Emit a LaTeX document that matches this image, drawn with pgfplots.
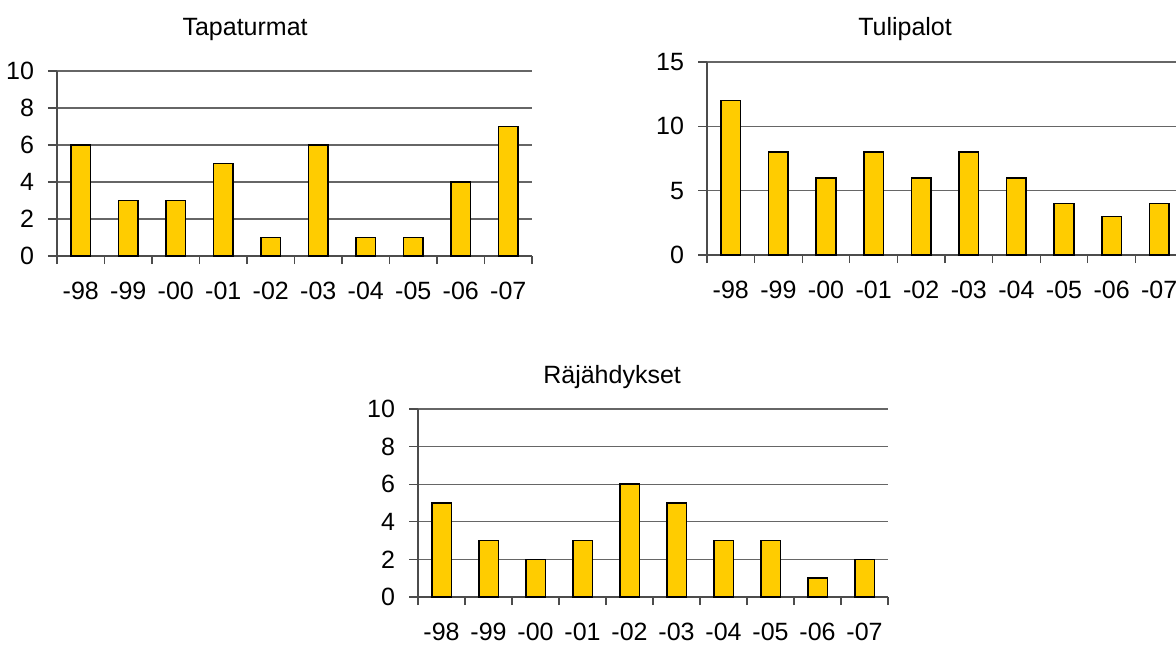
\documentclass[border=0pt]{standalone}
\usepackage{fontspec}
\setmainfont{Liberation Sans}
\usepackage{pgfplots}
\pgfplotsset{compat=1.18}
\definecolor{barcol}{HTML}{FFCC00}
\pgfplotsset{mystyle/.style={
 scale only axis, anchor=south west,
 xmin=-0.5, xmax=9.5, ymin=0,
 axis x line=bottom, axis y line=left,
 axis line style={black!70, line width=0.6pt, -},
 ymajorgrids, major grid style={black!60, line width=0.6pt},
 xtick={0,...,9}, xticklabels={-98,-99,-00,-01,-02,-03,-04,-05,-06,-07},
 minor xtick={-0.5,0.5,...,9.5},
 tick align=outside,
 major x tick style={draw=none},
 minor tick length=4pt, major tick length=4.5pt,
 tick style={black!70, line width=0.6pt},
 ybar, bar width=9.8pt,
 ticklabel style={font=\fontsize{12.5}{14}\selectfont},
 xticklabel style={inner sep=1pt, yshift=-7.2pt},
 yticklabel style={xshift=-3.5pt},
 /pgf/number format/assume math mode=true,
 title style={font=\fontsize{12.5}{14}\selectfont, anchor=center},
}}
\begin{document}
\begin{tikzpicture}
\useasboundingbox (0,0) rectangle (588pt,-322pt);
\clip (0,0) rectangle (588pt,-322pt);
\begin{axis}[mystyle, at={(28.5pt,-128pt)}, width=237.5pt, height=92.5pt,
  ymax=10, ytick={0,2,...,10},
  title={Tapaturmat}, title style={at={(0.396,1)}, yshift=15pt}]
\addplot[fill=barcol, draw=black, line width=0.8pt] coordinates {(0,6) (1,3) (2,3) (3,5) (4,1) (5,6) (6,1) (7,1) (8,4) (9,7)};
\end{axis}
\begin{axis}[mystyle, at={(353.5pt,-127.5pt)}, width=238pt, height=96.5pt,
  ymax=15, ytick={0,5,10,15},
  title={Tulipalot}, title style={at={(0.416,1)}, yshift=10.5pt}]
\addplot[fill=barcol, draw=black, line width=0.8pt] coordinates {(0,12) (1,8) (2,6) (3,8) (4,6) (5,8) (6,6) (7,4) (8,3) (9,4)};
\end{axis}
\begin{axis}[mystyle, at={(209pt,-298.5pt)}, width=235pt, height=94pt,
  ymax=10, ytick={0,2,...,10},
  title={Räjähdykset}, title style={at={(0.413,1)}, yshift=10pt}]
\addplot[fill=barcol, draw=black, line width=0.8pt] coordinates {(0,5) (1,3) (2,2) (3,3) (4,6) (5,5) (6,3) (7,3) (8,1) (9,2)};
\end{axis}
\end{tikzpicture}
\end{document}
